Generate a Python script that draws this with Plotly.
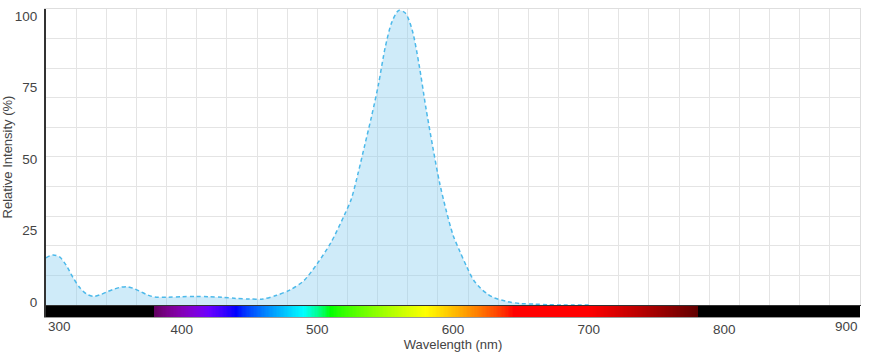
import plotly.graph_objects as go

# ---- data ----
wavelength = [300, 305, 310, 315, 320, 325, 330, 335, 340, 345, 350, 355, 360, 365, 370, 375,
              380, 390, 400, 410, 420, 430, 440, 450, 460, 470, 480, 490, 500, 510, 520, 525,
              530, 535, 540, 545, 550, 555, 560, 565, 570, 575, 580, 585, 590, 595, 600, 605,
              610, 615, 620, 625, 630, 640, 650, 660, 670, 680, 700]
intensity = [16.5, 17.5, 16.8, 13.8, 9.5, 6.0, 3.8, 3.0, 3.6, 4.6, 5.5, 6.2, 6.4, 5.7, 4.6, 3.5,
             2.8, 2.7, 2.9, 3.0, 2.9, 2.7, 2.3, 2.1, 2.1, 3.4, 5.3, 8.5, 14.5, 21.8, 31.5, 37.0,
             46.0, 56.0, 66.0, 77.0, 90.0, 99.0, 103.0, 102.0, 96.0, 84.0, 69.0, 55.5, 43.0, 33.0, 24.5, 18.8,
             13.5, 8.8, 6.0, 4.0, 2.6, 1.2, 0.5, 0.3, 0.1, 0.0, 0.0]

y_tick_vals = [0, 25, 50, 75, 100]
x_tick_vals = [400, 500, 600, 700, 800]
x_edge_labels = [300, 900]
x_range = [300, 900]
y_range = [0, 103.5]
band_wl = list(range(300, 901))


def wl_rgb(w):
    """Approximate visible-spectrum colour for a wavelength (nm)."""
    if w < 380 or w > 780:
        return (0, 0, 0)
    if w < 440:
        r, g, b = -(w - 440) / 60, 0.0, 1.0
    elif w < 490:
        r, g, b = 0.0, (w - 440) / 50, 1.0
    elif w < 510:
        r, g, b = 0.0, 1.0, -(w - 510) / 20
    elif w < 580:
        r, g, b = (w - 510) / 70, 1.0, 0.0
    elif w < 645:
        r, g, b = 1.0, -(w - 645) / 65, 0.0
    else:
        r, g, b = 1.0, 0.0, 0.0
    if w < 420:
        f = 0.3 + 0.7 * (w - 380) / 40
    elif w > 700:
        f = 0.3 + 0.7 * (780 - w) / 80
    else:
        f = 1.0
    return tuple(int(round(255 * (c * f) ** 0.8)) if c > 0 else 0 for c in (r, g, b))


stops = sorted(set(list(range(300, 901, 5)) + [379.9, 380, 780, 780.1]))
colorscale = []
for s in stops:
    rgb = wl_rgb(s)
    colorscale.append([(s - 300) / 600, "rgb(%d,%d,%d)" % rgb])

FONT = "Arial, Liberation Sans, sans-serif"
GRID = "#e4e4e4"
TXT = "#444"

fig = go.Figure()
fig.add_trace(go.Scatter(
    x=wavelength, y=intensity, mode="lines",
    line=dict(color="#4cb9ea", width=1.5, dash="4px,3px", shape="spline", smoothing=0.8),
    fill="tozeroy", fillcolor="rgba(135,206,240,0.4)",
    xaxis="x", yaxis="y", hoverinfo="skip", showlegend=False))
fig.add_trace(go.Heatmap(
    x=band_wl, y=[0], z=[band_wl], colorscale=colorscale, zmin=300, zmax=900,
    showscale=False, xaxis="x2", yaxis="y2", hoverinfo="skip"))
# empty helper traces so overlay axes are drawn
fig.add_trace(go.Scatter(x=[], y=[], xaxis="x3", yaxis="y", showlegend=False))
fig.add_trace(go.Scatter(x=[], y=[], xaxis="x", yaxis="y3", showlegend=False))

W, H = 871, 362
ML, MR, MT, MB = 45.5, 11, 9.3, 45
plot_h = H - MT - MB
band_top = (317 - 306) / plot_h
main_bottom = (317 - 305) / plot_h

fig.update_layout(
    width=W, height=H,
    margin=dict(l=ML, r=MR, t=MT, b=MB, autoexpand=False),
    paper_bgcolor="white", plot_bgcolor="white",
    font=dict(family=FONT, size=13, color=TXT),
    showlegend=False,
    xaxis=dict(domain=[0, 1], range=x_range, anchor="y", side="top", automargin=False,
               tick0=300, dtick=600 / 27, showgrid=True, gridcolor=GRID, gridwidth=1,
               showticklabels=False, ticks="", showline=True, linecolor="#dedede",
               zeroline=False),
    xaxis3=dict(overlaying="x", anchor="y", side="bottom", range=x_range, automargin=False,
                showgrid=False, showticklabels=False, ticks="", showline=True,
                linecolor="#333", linewidth=1, zeroline=False),
    yaxis=dict(domain=[main_bottom, 1], range=y_range, anchor="x", side="right",
               automargin=False,
               tick0=0, dtick=(y_range[1] - y_range[0]) / 10, showgrid=True,
               gridcolor=GRID, gridwidth=1, showticklabels=False, ticks="",
               showline=True, linecolor="#dedede", zeroline=False),
    yaxis3=dict(overlaying="y", anchor="x", side="left", range=y_range, automargin=False,
                tickvals=y_tick_vals, showgrid=False, zeroline=False, ticks="",
                showline=True, linecolor="#333", linewidth=2,
                ticklabelstandoff=4, ticklabelshift=-3,
                tickfont=dict(size=13.5, color=TXT),
                title=dict(text="Relative Intensity (%)", font=dict(size=13, color=TXT),
                           standoff=8)),
    xaxis2=dict(domain=[0, 1], anchor="y2", range=x_range, tickvals=x_tick_vals,
                automargin=False,
                showgrid=False, zeroline=False, ticks="", showline=True,
                linecolor="#999", linewidth=1, ticklabelstandoff=0,
                tickfont=dict(size=13.5, color=TXT),
                title=dict(text="Wavelength (nm)", font=dict(size=13, color=TXT),
                           standoff=2)),
    yaxis2=dict(domain=[0, band_top], anchor="x2", range=[-0.5, 0.5], showticklabels=False,
                automargin=False,
                showgrid=False, zeroline=False, ticks="", showline=True,
                linecolor="#333", linewidth=2),
)

for v, anchor in zip(x_edge_labels, ["left", "right"]):
    fig.add_annotation(x=v, xref="x2", y=0, yref="paper", yanchor="top",
                       xanchor=anchor, yshift=0, text=str(v), showarrow=False,
                       font=dict(family=FONT, size=13.5, color=TXT))

fig.write_html("out.html", config={"displayModeBar": False},
               post_script="document.body.style.margin='0';")
